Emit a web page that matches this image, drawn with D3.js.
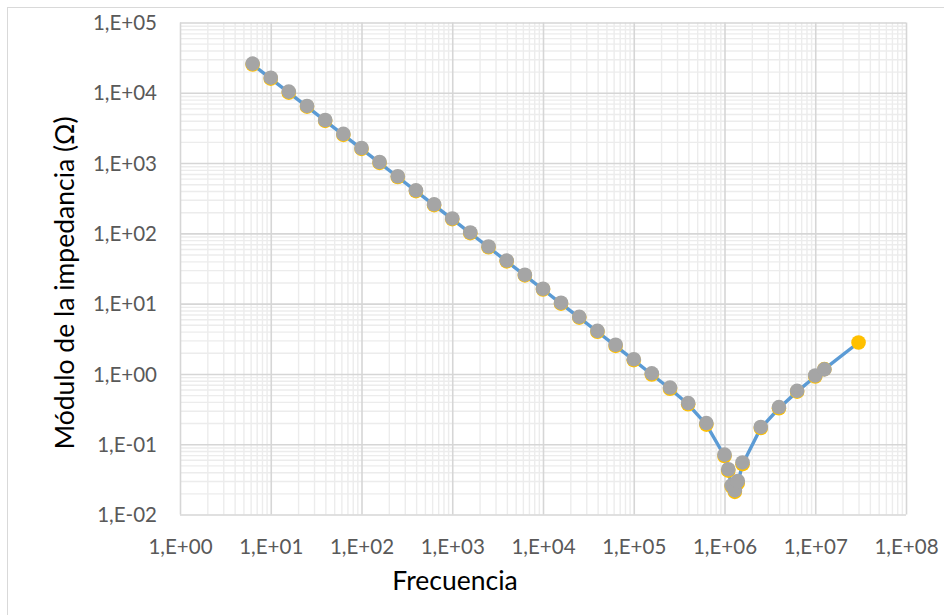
<!DOCTYPE html>
<html>
<head>
<meta charset="utf-8">
<script src="https://cdn.jsdelivr.net/npm/d3@7"></script>
<style>
  html, body { margin: 0; padding: 0; background: #ffffff; }
  svg { display: block; }
</style>
</head>
<body>
<div id="chart"></div>
<script>
// Frequency sweep (Hz) and impedance magnitude (Ω)
const freqMeasured = [6.31, 10, 15.8, 25.1, 39.8, 63.1, 100, 158, 251, 398, 631,
  1000, 1580, 2510, 3980, 6310, 1e4, 1.58e4, 2.51e4, 3.98e4, 6.31e4,
  1e5, 1.58e5, 2.51e5, 3.98e5, 6.31e5, 1e6, 1.1e6, 1.2e6, 1.3e6, 1.4e6, 1.58e6,
  2.51e6, 3.98e6, 6.31e6, 1e7, 1.26e7, 3e7];
const zMeasured = [25200, 15900, 10050, 6340, 3990, 2520, 1590, 1005, 634, 399, 252,
  159, 100.5, 63.4, 40.0, 25.2, 15.9, 10.0, 6.33, 3.98, 2.50,
  1.57, 0.98, 0.615, 0.37, 0.19, 0.068, 0.042, 0.025, 0.021, 0.028, 0.052,
  0.17, 0.325, 0.56, 0.92, 1.17, 2.8];

const freqModel = [6.31, 10, 15.8, 25.1, 39.8, 63.1, 100, 158, 251, 398, 631,
  1000, 1580, 2510, 3980, 6310, 1e4, 1.58e4, 2.51e4, 3.98e4, 6.31e4,
  1e5, 1.58e5, 2.51e5, 3.98e5, 6.31e5, 1e6, 1.1e6, 1.2e6, 1.3e6, 1.4e6, 1.58e6,
  2.51e6, 3.98e6, 6.31e6, 1e7, 1.26e7];
const zModel = [26000, 16400, 10400, 6500, 4100, 2600, 1640, 1035, 650, 410, 259,
  163, 103, 65, 41, 25.8, 16.3, 10.3, 6.5, 4.1, 2.6,
  1.62, 1.02, 0.64, 0.385, 0.2, 0.071, 0.044, 0.026, 0.022, 0.030, 0.055,
  0.176, 0.338, 0.575, 0.95, 1.16];

const xTicks = [1e0, 1e1, 1e2, 1e3, 1e4, 1e5, 1e6, 1e7, 1e8];
const yTicks = [1e-2, 1e-1, 1e0, 1e1, 1e2, 1e3, 1e4, 1e5];

const xTitle = "Frecuencia";
const yTitle = "Módulo de la impedancia (Ω)";

const W = 944, H = 615;
const plot = { left: 180, right: 906, top: 22.5, bottom: 514.5 };
const FONT = "Lato, 'Open Sans', sans-serif";

const svg = d3.select("#chart").append("svg")
  .attr("width", W).attr("height", H);

// chart frame
svg.append("rect")
  .attr("x", 7.5).attr("y", 7.5)
  .attr("width", W + 20).attr("height", H + 20)
  .attr("fill", "#ffffff").attr("stroke", "#d9d9d9").attr("stroke-width", 1);

const x = d3.scaleLog().domain([1e0, 1e8]).range([plot.left, plot.right]);
const y = d3.scaleLog().domain([1e-2, 1e5]).range([plot.bottom, plot.top]);

// minor grid positions: 2..9 in each decade
function minors(ticks) {
  const out = [];
  for (let i = 0; i < ticks.length - 1; i++)
    for (let m = 2; m <= 9; m++) out.push(ticks[i] * m);
  return out;
}

const gridMinorX = d3.axisBottom(x).tickValues(minors(xTicks))
  .tickSize(-(plot.bottom - plot.top)).tickFormat("");
const gridMinorY = d3.axisLeft(y).tickValues(minors(yTicks))
  .tickSize(-(plot.right - plot.left)).tickFormat("");
const gridMajorX = d3.axisBottom(x).tickValues(xTicks)
  .tickSize(-(plot.bottom - plot.top)).tickFormat("");
const gridMajorY = d3.axisLeft(y).tickValues(yTicks)
  .tickSize(-(plot.right - plot.left)).tickFormat("");

function styleGrid(g, color, width) {
  g.select(".domain").remove();
  g.selectAll(".tick line").attr("stroke", color).attr("stroke-width", width);
}

svg.append("g").attr("transform", `translate(0,${plot.bottom})`)
  .call(gridMinorX).call(g => styleGrid(g, "#ececec", 1.4));
svg.append("g").attr("transform", `translate(${plot.left},0)`)
  .call(gridMinorY).call(g => styleGrid(g, "#ececec", 1.4));
svg.append("g").attr("transform", `translate(0,${plot.bottom})`)
  .call(gridMajorX).call(g => styleGrid(g, "#d6d6d6", 1.6));
svg.append("g").attr("transform", `translate(${plot.left},0)`)
  .call(gridMajorY).call(g => styleGrid(g, "#d6d6d6", 1.6));

// tick labels in "1,E+05" style
const fmt = v => {
  const e = Math.round(Math.log10(v));
  const s = e < 0 ? "-" : "+";
  return "1,E" + s + String(Math.abs(e)).padStart(2, "0");
};

const xAxis = d3.axisBottom(x).tickValues(xTicks).tickFormat(fmt).tickSize(0).tickPadding(0);
const yAxis = d3.axisLeft(y).tickValues(yTicks).tickFormat(fmt).tickSize(0).tickPadding(0);

svg.append("g").attr("transform", `translate(0,${plot.bottom})`)
  .call(xAxis)
  .call(g => {
    g.select(".domain").remove();
    g.selectAll("text").attr("y", 39.5).attr("dy", null)
      .attr("font-family", FONT).attr("font-size", 20.5).attr("fill", "#595959");
  });

svg.append("g").attr("transform", `translate(${plot.left},0)`)
  .call(yAxis)
  .call(g => {
    g.select(".domain").remove();
    g.selectAll("text").attr("x", -23).attr("dy", "0.35em")
      .attr("font-family", FONT).attr("font-size", 20.5).attr("fill", "#595959");
  });

// axis titles
svg.append("text")
  .attr("x", 455).attr("y", 590)
  .attr("text-anchor", "middle")
  .attr("font-family", FONT).attr("font-size", 26.5).attr("fill", "#000000")
  .text(xTitle);

svg.append("text")
  .attr("transform", "translate(74,283) rotate(-90)")
  .attr("text-anchor", "middle")
  .attr("font-family", FONT).attr("font-size", 26.5).attr("fill", "#000000")
  .text(yTitle);

// series
const measured = freqMeasured.map((f, i) => ({ f, z: zMeasured[i] }));
const model = freqModel.map((f, i) => ({ f, z: zModel[i] }));

const line = d3.line().x(d => x(d.f)).y(d => y(d.z));

svg.append("path")
  .datum(measured)
  .attr("d", line)
  .attr("fill", "none")
  .attr("stroke", "#5b9bd5")
  .attr("stroke-width", 3.4)
  .attr("stroke-linejoin", "round")
  .attr("stroke-linecap", "round");

svg.append("g").selectAll("circle")
  .data(measured).join("circle")
  .attr("cx", d => x(d.f)).attr("cy", d => y(d.z))
  .attr("r", 7.3).attr("fill", "#ffc000");

svg.append("g").selectAll("circle")
  .data(model).join("circle")
  .attr("cx", d => x(d.f)).attr("cy", d => y(d.z))
  .attr("r", 7.3).attr("fill", "#a5a5a5");
</script>
</body>
</html>
